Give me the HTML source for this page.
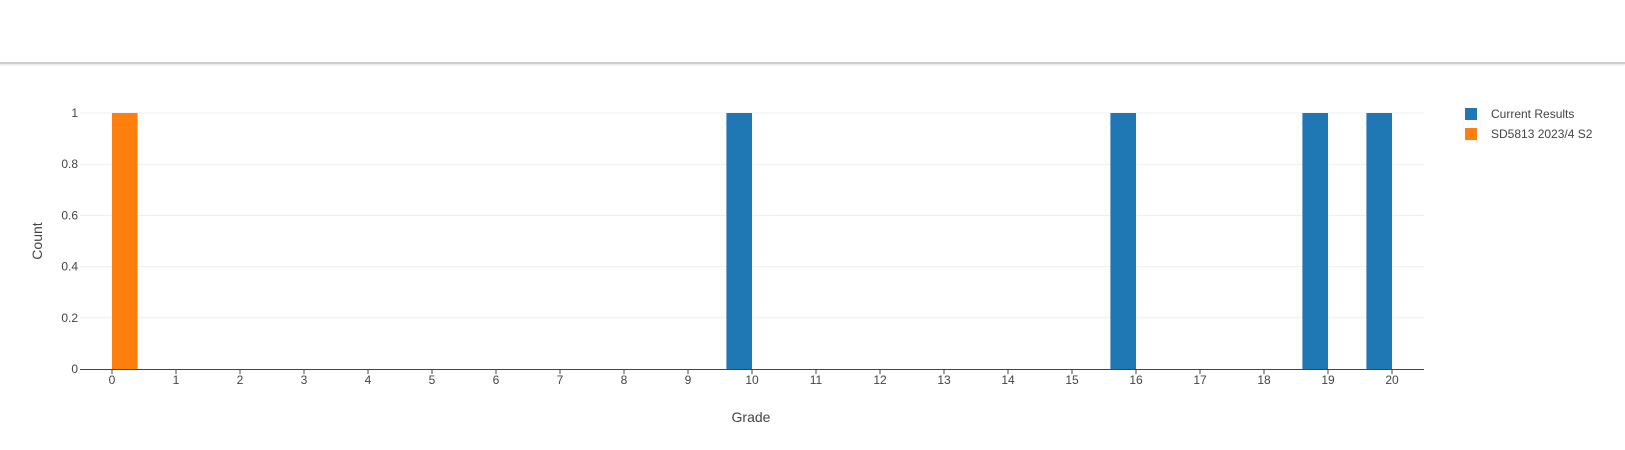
<!DOCTYPE html>
<html><head><style>
body{margin:0;width:1625px;height:450px;background:#fff;overflow:hidden;font-family:"Liberation Sans",sans-serif;}
#topbar{position:absolute;left:0;top:0;width:1625px;height:62px;border-bottom:2px solid #cfcfcf;box-shadow:0 1px 2px rgba(0,0,0,0.12);}
</style></head><body>
<div id="topbar"></div>
<svg id="chart" width="1625" height="450" style="position:absolute;left:0;top:0"></svg>
<script>
const categories=[0,1,2,3,4,5,6,7,8,9,10,11,12,13,14,15,16,17,18,19,20];
const currentValues=[0,0,0,0,0,0,0,0,0,0,1,0,0,0,0,0,1,0,0,1,1];
const priorValues=[1,0,0,0,0,0,0,0,0,0,0,0,0,0,0,0,0,0,0,0,0];
const yTicks=[0,0.2,0.4,0.6,0.8,1];
const yTickLabels=["0","0.2","0.4","0.6","0.8","1"];
const seriesNames=["Current Results","SD5813 2023/4 S2"];
const colors=["#1f77b4","#ff7f0e"];
const NS="http://www.w3.org/2000/svg";
const svg=document.getElementById('chart');
const x0=112,unit=64,yBase=369,yTop=113,pL=80,pR=1424;
function xs(v){return x0+v*unit;}
function ys(v){return yBase-(v/1)*(yBase-yTop);}
function mk(t,a,txt){const e=document.createElementNS(NS,t);for(const k in a)e.setAttribute(k,a[k]);if(txt!==undefined)e.textContent=txt;svg.appendChild(e);return e;}
yTicks.forEach((t,i)=>{
  if(t>0){const g=mk('line',{x1:pL,x2:pR,y1:ys(t),y2:ys(t),stroke:'#eee','stroke-width':1});
  
  }
  const l=mk('text',{x:78,y:ys(t)+4,'text-anchor':'end','font-size':12,fill:'#444'},yTickLabels[i]);
  
  
});
categories.forEach((c,i)=>{
  const l=mk('text',{x:xs(c),y:384,'text-anchor':'middle','font-size':12,fill:'#444'},String(c));
  
  
  const tk=mk('line',{x1:xs(c),x2:xs(c),y1:369,y2:374,stroke:'#444','stroke-width':1});
  
  
  if(currentValues[i]>0){const b=mk('rect',{x:xs(c)-0.4*unit,y:ys(currentValues[i]),width:0.4*unit,height:yBase-ys(currentValues[i]),fill:colors[0]});
  
  }
  if(priorValues[i]>0){const b=mk('rect',{x:xs(c),y:ys(priorValues[i]),width:0.4*unit,height:yBase-ys(priorValues[i]),fill:colors[1]});
  
  }
});
const ax=mk('line',{x1:pL,x2:pR,y1:369.5,y2:369.5,stroke:'#444','stroke-width':1});


const xt=mk('text',{x:751,y:422,'text-anchor':'middle','font-size':14,fill:'#444'},'Grade');


const yt=mk('text',{x:42,y:241,'text-anchor':'middle','font-size':14,fill:'#444',transform:'rotate(-90 42 241)'},'Count');


seriesNames.forEach((n,i)=>{
  const sq=mk('rect',{x:1465,y:108+i*20,width:12,height:12,fill:colors[i]});
  
  
  const t=mk('text',{x:1491,y:118+i*20,'font-size':12,fill:'#444'},n);
  
  
});
</script>
</body></html>
